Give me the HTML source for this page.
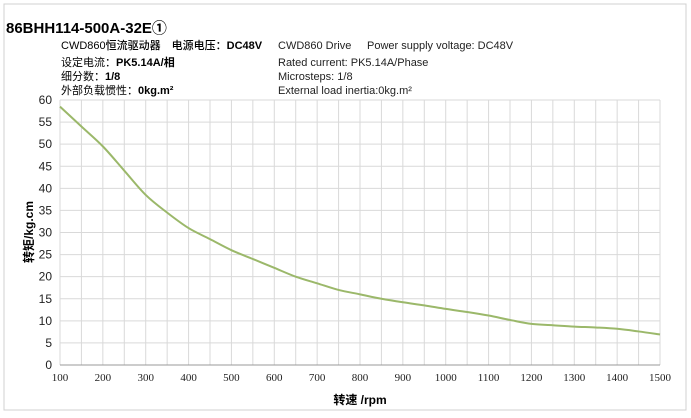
<!DOCTYPE html>
<html><head><meta charset="utf-8"><style>
body{margin:0;background:#fff;width:691px;height:418px;overflow:hidden;font-family:"Liberation Sans","Noto Sans CJK SC",sans-serif}
svg{position:absolute;left:0;top:0}
</style></head><body>
<svg width="691" height="418">
<rect x="4" y="4" width="682" height="406" fill="none" stroke="#d0d0d0"/>
<text x="6" y="33" font-size="15" font-weight="bold" fill="#000">86BHH114-500A-32E①</text>
<g font-size="11" fill="#000" font-family="'Liberation Sans','Noto Sans CJK SC',sans-serif">
<text x="61" y="49" font-weight="500">CWD860恒流驱动器　电源电压：<tspan font-weight="bold">DC48V</tspan></text>
<text x="61" y="66">设定电流：<tspan font-weight="bold">PK5.14A/相</tspan></text>
<text x="61" y="80">细分数：<tspan font-weight="bold">1/8</tspan></text>
<text x="61" y="94">外部负载惯性：<tspan font-weight="bold">0kg.m²</tspan></text>
</g>
<g font-size="11" fill="#222">
<text x="278" y="49">CWD860 Drive</text><text x="367" y="49">Power supply voltage: DC48V</text>
<text x="278" y="66">Rated current: PK5.14A/Phase</text>
<text x="278" y="80">Microsteps: 1/8</text>
<text x="278" y="94">External load inertia:0kg.m²</text>
</g>
<g id="grid"></g><g id="axes"></g>
<path id="curve" fill="none" stroke="#9bb86a" stroke-width="2"/>
<text x="360" y="404" font-size="12" font-weight="bold" text-anchor="middle">转速 /rpm</text>
<text transform="translate(33,232) rotate(-90)" font-size="12" font-weight="bold" text-anchor="middle">转矩/kg.cm</text>
</svg>
<script>
const speeds=[100,150,200,250,300,350,400,450,500,550,600,650,700,750,800,850,900,950,1000,1050,1100,1150,1200,1250,1300,1350,1400,1450,1500];
const torque=[58.5,54,49.5,44,38.5,34.5,31,28.5,26,24,22,20,18.5,17,16,15,14.2,13.5,12.7,12,11.2,10.2,9.3,9,8.7,8.5,8.2,7.6,6.9];
const xTicks=[100,200,300,400,500,600,700,800,900,1000,1100,1200,1300,1400,1500];
const yTicks=[0,5,10,15,20,25,30,35,40,45,50,55,60];
const X=v=>60+(v-100)/1400*600, Y=v=>365-v/60*265;
const NS="http://www.w3.org/2000/svg";
const g=document.getElementById('grid'), a=document.getElementById('axes');
function el(p,t,at){const e=document.createElementNS(NS,t);for(const k in at)e.setAttribute(k,at[k]);p.appendChild(e);return e;}
for(let v=100;v<=1500;v+=50){const l=el(g,'line',{x1:X(v),x2:X(v),y1:Y(60),y2:Y(0),stroke:'#d9d9d9','stroke-width':1});

}
yTicks.forEach(v=>{const l=el(g,'line',{x1:X(100),x2:X(1500),y1:Y(v),y2:Y(v),stroke:v==0?'#999':'#d9d9d9','stroke-width':1});


const t=el(a,'text',{x:52,y:Y(v)+4,'font-size':12,'text-anchor':'end',fill:'#222'});t.textContent=v;

});
xTicks.forEach(v=>{const t=el(a,'text',{x:X(v),y:381,'font-size':11,'text-anchor':'middle',fill:'#222','font-family':'Liberation Serif,serif'});t.textContent=v;

});
const pts=speeds.map((s,i)=>[X(s),Y(torque[i])]);
let d='M'+pts[0];for(let i=0;i<pts.length-1;i++){const p0=pts[i-1]||pts[i],p1=pts[i],p2=pts[i+1],p3=pts[i+2]||p2;
d+=` C${p1[0]+(p2[0]-p0[0])/6},${p1[1]+(p2[1]-p0[1])/6} ${p2[0]-(p3[0]-p1[0])/6},${p2[1]-(p3[1]-p1[1])/6} ${p2[0]},${p2[1]}`;}
document.getElementById('curve').setAttribute('d',d);
</script>
</body></html>
